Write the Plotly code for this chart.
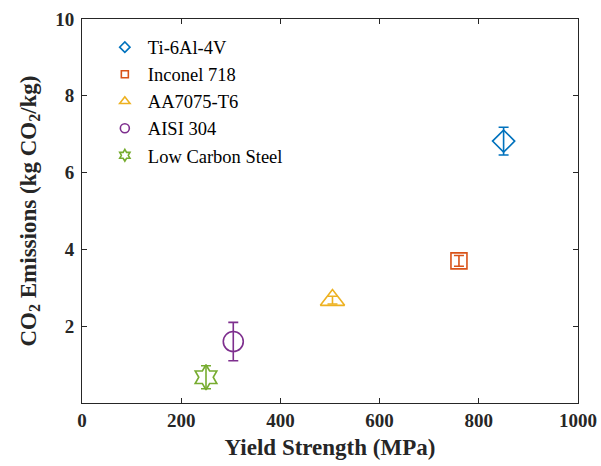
import plotly.graph_objects as go

# Material properties
materials = ["Ti-6Al-4V", "Inconel 718", "AA7075-T6", "AISI 304", "Low Carbon Steel"]
yield_strength = [850, 760, 505, 305, 250]          # MPa
co2_emissions = [6.82, 3.70, 2.68, 1.60, 0.67]      # kg CO2 / kg
co2_error = [0.36, 0.14, 0.10, 0.50, 0.30]

x_ticks = [0, 200, 400, 600, 800, 1000]
y_ticks = [2, 4, 6, 8, 10]

colors = ["#0072BD", "#D95319", "#EDB120", "#7E2F8E", "#77AC30"]
symbols = ["diamond-open", "square-open", "triangle-up-open", "circle-open", "hexagram-open"]
sizes = [17, 16, 21, 20, 19]
legend_sizes = [8, 7, 9, 9, 9]

FONT = "Liberation Serif"
AXIS_COLOR = "#262626"

fig = go.Figure()
for name, x, y, e, c, s, sz in zip(materials, yield_strength, co2_emissions,
                                   co2_error, colors, symbols, sizes):
    fig.add_trace(go.Scatter(
        x=[x], y=[y], name=name, mode="markers", showlegend=False,
        marker=dict(symbol=s, size=sz, color=c, line=dict(color=c, width=1.6)),
        error_y=dict(type="data", array=[e], color=c, thickness=1.6, width=5),
    ))

# Compact legend entries (small symbols)
for name, c, s, lsz in zip(materials, colors, symbols, legend_sizes):
    fig.add_trace(go.Scatter(
        x=[None], y=[None], name=name, mode="markers",
        marker=dict(symbol=s, size=lsz, color=c, line=dict(color=c, width=1.6)),
    ))

axis_common = dict(
    showline=True, linecolor=AXIS_COLOR, linewidth=1, mirror="ticks",
    ticks="inside", ticklen=5, tickcolor=AXIS_COLOR, tickwidth=1,
    showgrid=False, zeroline=False, automargin=False,
    tickfont=dict(family=FONT, size=19, color=AXIS_COLOR),
)

fig.update_xaxes(
    range=[0, 1000], tickvals=x_ticks,
    ticktext=[f"<b>{v}</b>" for v in x_ticks],
    title=dict(text="<b>Yield Strength (MPa)</b>",
               font=dict(family=FONT, size=23, color=AXIS_COLOR), standoff=9),
    **axis_common,
)
fig.update_yaxes(
    range=[0, 10], tickvals=y_ticks,
    ticktext=[f"<b>{v}</b>" for v in y_ticks],
    ticklabelstandoff=3,
    title=dict(text="<b>CO<sub>2</sub> Emissions (kg CO<sub>2</sub>/kg)</b>",
               font=dict(family=FONT, size=23, color=AXIS_COLOR), standoff=12),
    **axis_common,
)

fig.update_layout(
    width=601, height=466,
    margin=dict(l=82, r=23, t=19, b=63),
    plot_bgcolor="white", paper_bgcolor="white",
    font=dict(family=FONT, color="black"),
    legend=dict(x=0.04, y=0.975, xanchor="left", yanchor="top",
                bgcolor="rgba(0,0,0,0)", font=dict(family=FONT, size=18.5, color="black"),
                itemwidth=36, tracegroupgap=0),
)

fig.write_html("out.html")
